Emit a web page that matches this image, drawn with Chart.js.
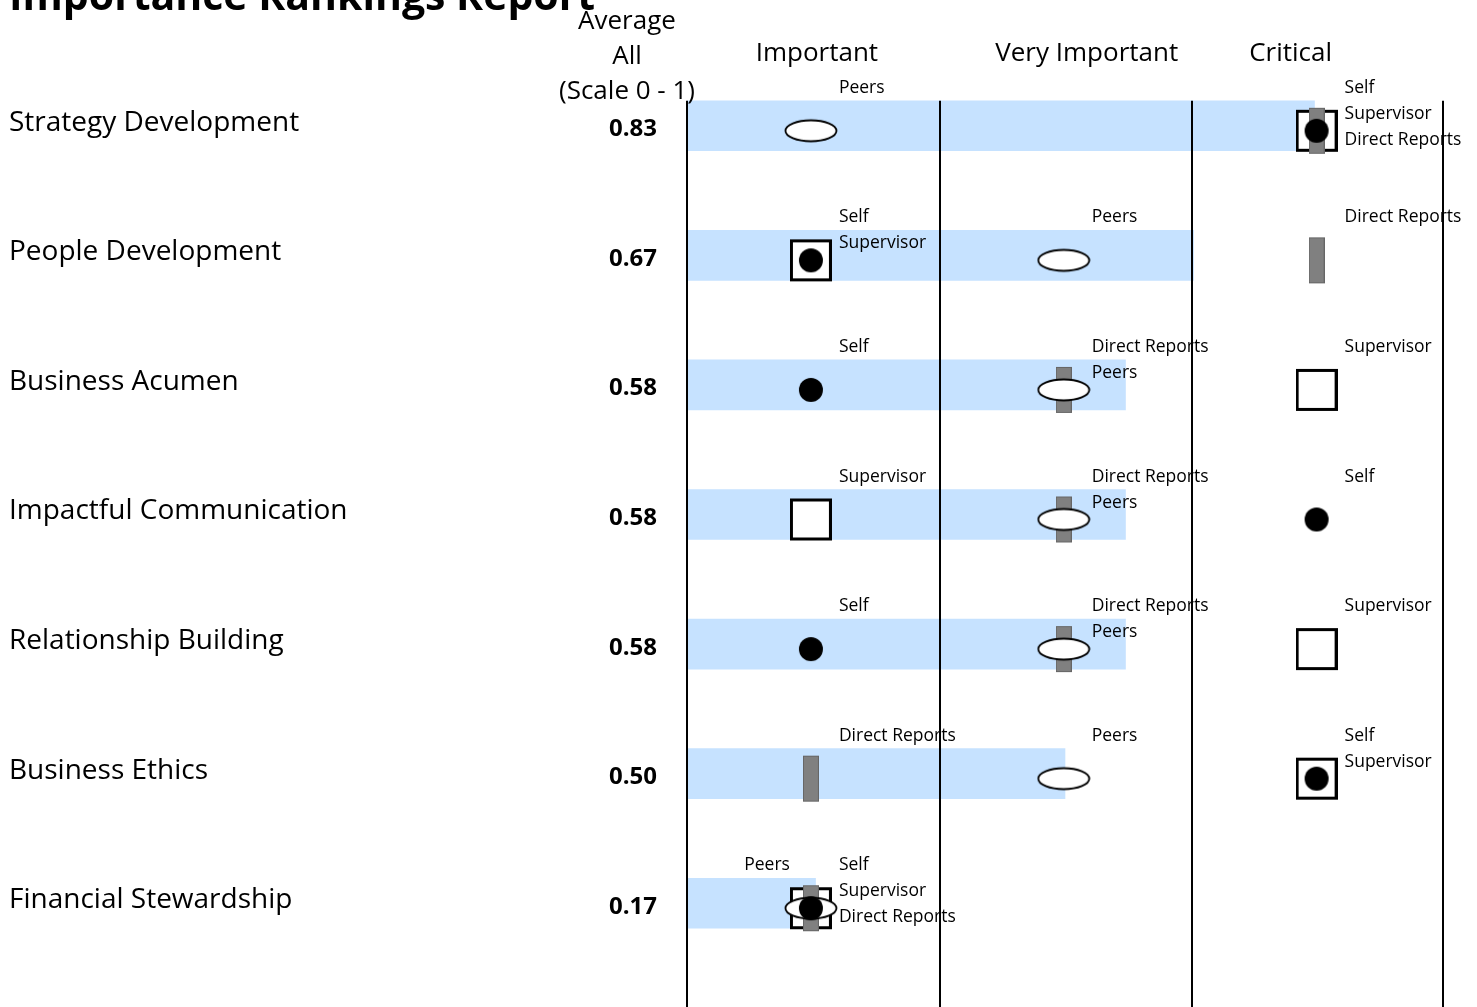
<!DOCTYPE html>
<html>
<head>
<meta charset="utf-8">
<title>Importance Rankings Report</title>
<script src="https://cdn.jsdelivr.net/npm/chart.js@4.4.1/dist/chart.umd.min.js"></script>
<style>
  html, body { margin: 0; padding: 0; background: #fff; overflow: hidden; }
  #wrap { position: relative; width: 1477px; height: 1007px; }
</style>
</head>
<body>
<div id="wrap"><canvas id="rankingsChart"></canvas></div>
<script>
const competencies = [
  'Strategy Development',
  'People Development',
  'Business Acumen',
  'Impactful Communication',
  'Relationship Building',
  'Business Ethics',
  'Financial Stewardship'
];
const averageAll = [0.83, 0.67, 0.58, 0.58, 0.58, 0.50, 0.17];
const levels = ['Important', 'Very Important', 'Critical'];

// 1 = Important, 2 = Very Important, 3 = Critical
const selfRatings = [3, 1, 1, 3, 1, 3, 1];
const supervisorRatings = [3, 1, 3, 1, 3, 3, 1];
const directReportRatings = [3, 3, 2, 2, 2, 1, 1];
const peerRatings = [1, 2, 2, 2, 2, 2, 1];

const FONT = '"Open Sans", "DejaVu Sans", sans-serif';
const DROP = 5; // markers sit a little below the bar centre

// small offscreen canvases used as point styles
function marker(w, h, draw) {
  const c = document.createElement('canvas');
  c.width = w;
  c.height = h + 2 * DROP + 2;
  const g = c.getContext('2d');
  draw(g, w / 2, c.height / 2 + DROP);
  return c;
}

const selfMarker = marker(26, 26, (g, cx, cy) => {
  g.fillStyle = '#000';
  g.beginPath();
  g.arc(cx, cy, 12, 0, Math.PI * 2);
  g.fill();
});

const supervisorMarker = marker(42, 42, (g, cx, cy) => {
  g.fillStyle = '#fff';
  g.fillRect(cx - 21, cy - 21, 42, 42);
  g.strokeStyle = '#000';
  g.lineWidth = 3;
  g.strokeRect(cx - 19.5, cy - 19.5, 39, 39);
});

const directMarker = marker(16, 46, (g, cx, cy) => {
  g.fillStyle = '#808080';
  g.fillRect(cx - 8, cy - 23, 16, 46);
  g.strokeStyle = '#666';
  g.lineWidth = 1;
  g.strokeRect(cx - 7.5, cy - 22.5, 15, 45);
});

const peerMarker = marker(54, 24, (g, cx, cy) => {
  g.fillStyle = '#fff';
  g.strokeStyle = '#000';
  g.lineWidth = 1.8;
  g.beginPath();
  g.ellipse(cx, cy, 25.5, 10.5, 0, 0, Math.PI * 2);
  g.fill();
  g.stroke();
});

const raters = [
  { name: 'Self', ratings: selfRatings },
  { name: 'Supervisor', ratings: supervisorRatings },
  { name: 'Direct Reports', ratings: directReportRatings },
  { name: 'Peers', ratings: peerRatings }
];

// headings, averages, column rules and rater names
const reportLayer = {
  id: 'reportLayer',
  afterDraw(chart) {
    const ctx = chart.ctx;
    const xs = chart.scales.x;
    const lv = chart.scales.level;
    const bars = chart.getDatasetMeta(0).data;
    const top = bars[0].y - bars[0].height / 2;

    ctx.save();
    ctx.strokeStyle = '#000';
    ctx.lineWidth = 2;
    [0, 1 / 3, 2 / 3, 1].forEach(v => {
      const x = Math.round(xs.getPixelForValue(v)) + (v > 0 && v < 1 ? 1 : 0);
      ctx.beginPath();
      ctx.moveTo(x, top);
      ctx.lineTo(x, chart.height);
      ctx.stroke();
    });

    ctx.fillStyle = '#000';
    ctx.textBaseline = 'alphabetic';

    ctx.textAlign = 'left';
    ctx.font = 'bold 41px ' + FONT;
    ctx.fillText('Importance Rankings Report', 9, 9.5);

    ctx.textAlign = 'center';
    ctx.font = '26px ' + FONT;
    ctx.fillText('Average', 627, 29);
    ctx.fillText('All', 627, 64);
    ctx.fillText('(Scale 0 - 1)', 627, 99);

    const headShift = [6, 23, -26];
    levels.forEach((name, i) => {
      ctx.fillText(name, lv.getPixelForValue(i + 1) + headShift[i], 61);
    });

    ctx.font = 'bold 24px ' + FONT;
    bars.forEach((bar, i) => {
      ctx.fillText(averageAll[i].toFixed(2), 633, bar.y + 10.5);
    });

    ctx.font = '17.5px ' + FONT;
    bars.forEach((bar, i) => {
      levels.forEach((name, l) => {
        const x = lv.getPixelForValue(l + 1);
        const names = raters.filter(r => r.ratings[i] === l + 1).map(r => r.name);
        names.forEach((n, k) => {
          if (k < 3) {
            ctx.textAlign = 'left';
            ctx.fillText(n, x + 28, bar.y - 33 + 26 * k);
          } else {
            ctx.textAlign = 'right';
            ctx.fillText(n, x - 21, bar.y - 33);
          }
        });
      });
    });
    ctx.restore();
  }
};

function raterSet(label, data, style, order) {
  return {
    type: 'line',
    label: label,
    data: data,
    xAxisID: 'level',
    indexAxis: 'y',
    showLine: false,
    pointStyle: style,
    pointRadius: 10,
    order: order
  };
}

new Chart(document.getElementById('rankingsChart'), {
  type: 'bar',
  data: {
    labels: competencies,
    datasets: [
      {
        label: 'Average All',
        data: averageAll,
        xAxisID: 'x',
        backgroundColor: '#c6e2ff',
        borderWidth: 0,
        barThickness: 50,
        order: 5
      },
      raterSet('Supervisor', supervisorRatings, supervisorMarker, 4),
      raterSet('Direct Reports', directReportRatings, directMarker, 3),
      raterSet('Peers', peerRatings, peerMarker, 2),
      raterSet('Self', selfRatings, selfMarker, 1)
    ]
  },
  options: {
    indexAxis: 'y',
    responsive: true,
    maintainAspectRatio: false,
    animation: false,
    events: [],
    layout: { padding: { left: 9, right: 34, top: 61, bottom: 39 } },
    plugins: {
      legend: { display: false },
      tooltip: { enabled: false }
    },
    scales: {
      x: { type: 'linear', min: 0, max: 1, display: false },
      level: { type: 'linear', axis: 'x', min: 0.51, max: 3.5, display: false },
      y: {
        type: 'category',
        offset: true,
        grid: { display: false },
        border: { display: false },
        ticks: {
          crossAlign: 'far',
          labelOffset: -3,
          color: '#000',
          font: { family: FONT, size: 28 }
        },
        afterFit(scale) { scale.width = 678; }
      }
    }
  },
  plugins: [reportLayer]
});
</script>
</body>
</html>
